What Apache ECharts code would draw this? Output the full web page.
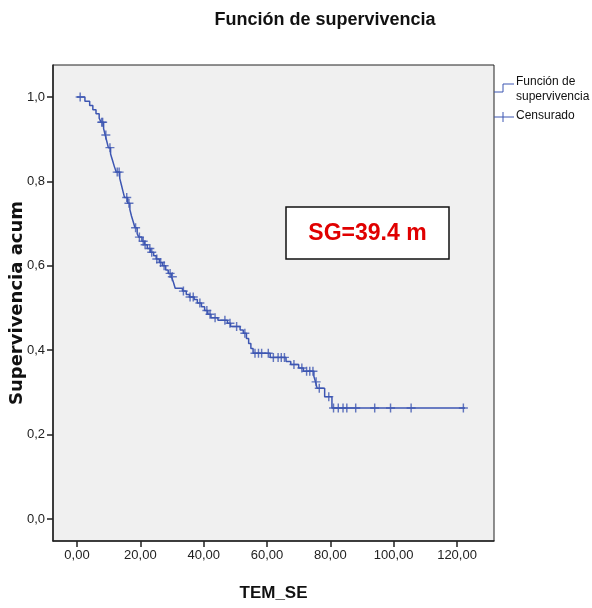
<!DOCTYPE html>
<html>
<head>
<meta charset="utf-8">
<script src="https://cdn.jsdelivr.net/npm/echarts@6/dist/echarts.min.js"></script>
<style>html,body{margin:0;padding:0;background:#fff}#c{width:592px;height:608px}</style>
</head>
<body>
<div id="c"></div>
<script>
// Kaplan-Meier step points [time, survival after event]
const kmSteps = [
  [0,1.0],[2.5,0.99],[4,0.98],[5,0.97],[6,0.96],[7,0.95],[7.6,0.94],[8.4,0.925],[8.9,0.91],
  [9.4,0.895],[9.9,0.88],[10.6,0.865],[11.2,0.85],[11.8,0.835],[12.4,0.822],[13.5,0.807],
  [14,0.792],[14.5,0.777],[15,0.762],[16,0.748],[16.7,0.733],[17.2,0.718],[17.8,0.703],
  [18.3,0.69],[19,0.676],[19.5,0.668],[20.5,0.658],[21.3,0.65],[22.2,0.641],[23.2,0.632],
  [24.2,0.624],[25,0.616],[26,0.608],[27,0.6],[28,0.59],[28.8,0.582],[29.8,0.574],[30.4,0.562],
  [31,0.547],[33.3,0.54],[34.5,0.532],[35.5,0.526],[37,0.52],[38,0.512],[39.3,0.503],
  [40.3,0.494],[41.3,0.485],[42.3,0.477],[44.5,0.471],[47.5,0.464],[48.5,0.456],[51.5,0.448],
  [52.5,0.44],[53.5,0.428],[54.2,0.416],[54.9,0.404],[55.6,0.393],[61,0.383],[66,0.373],
  [67.5,0.366],[70,0.358],[71.5,0.35],[74.8,0.338],[75.3,0.325],[75.8,0.31],[78.2,0.29],
  [80.5,0.263],[122.5,0.263]
];
// Censored observations [time, survival]
const censored = [
  [1,1.0],[7.8,0.94],[8.1,0.94],[9.1,0.91],[10.4,0.88],[12.7,0.822],[13.3,0.822],[15.7,0.762],
  [16.4,0.748],[18.5,0.69],[19.7,0.668],[20.9,0.658],[21.5,0.65],[23,0.641],[23.6,0.632],
  [25.2,0.616],[26.4,0.608],[27.5,0.6],[29.4,0.582],[30.1,0.574],[33.6,0.54],[35.7,0.526],
  [36.7,0.526],[38.8,0.512],[41,0.494],[42,0.485],[43.6,0.477],[46.7,0.471],[48.3,0.464],
  [50.4,0.456],[53,0.44],[56.2,0.393],[57.3,0.393],[58.3,0.393],[60.4,0.393],[62,0.383],
  [63.5,0.383],[64.5,0.383],[65.5,0.383],[68.5,0.366],[71,0.358],[72.5,0.35],[73.5,0.35],
  [74.5,0.35],[75.5,0.325],[76.5,0.31],[79.5,0.29],[81,0.263],[82.5,0.263],[84,0.263],
  [85.2,0.263],[88,0.263],[94,0.263],[99,0.263],[105.5,0.263],[122,0.263]
];
const xTicks = [0,20,40,60,80,100,120];
const yTicks = [0,0.2,0.4,0.6,0.8,1.0];
const titleText = 'Función de supervivencia';
const xName = 'TEM_SE';
const yName = 'Supervivencia acum';
const legendNames = ['Función de\nsupervivencia','Censurado'];
const annotation = 'SG=39.4 m';

const SANS = "'Liberation Sans',Arial,sans-serif";
const BLUE = '#3d56b2';
const chart = echarts.init(document.getElementById('c'), null, {renderer:'canvas'});
chart.setOption({
  animation:false,
  backgroundColor:'#ffffff',
  title:{text:titleText,left:320,top:6,textAlign:'center',
    textStyle:{fontFamily:SANS,fontWeight:'bold',fontSize:18,color:'#111'}},
  grid:{left:53,top:65,width:441,height:476,show:true,backgroundColor:'#f0f0f0',
    borderColor:'#222',borderWidth:1,containLabel:false,outerBoundsMode:'none'},
  xAxis:{type:'value',min:-7.58,max:131.67,
    name:xName,nameLocation:'middle',nameGap:44,nameMoveOverlap:false,
    nameTextStyle:{fontFamily:SANS,fontWeight:'bold',fontSize:17,color:'#111'},
    axisLine:{show:true,onZero:false,lineStyle:{color:'#222',width:1.5}},
    axisTick:{show:true,length:6,customValues:xTicks,lineStyle:{color:'#222',width:1.5}},
    axisLabel:{customValues:xTicks,margin:8,fontFamily:SANS,fontSize:13,color:'#222',
      formatter:v=>v.toFixed(2).replace('.',',')},
    splitLine:{show:false}},
  yAxis:{type:'value',min:-0.0521,max:1.0758,
    name:yName,nameLocation:'middle',nameGap:27,nameRotate:90,nameMoveOverlap:false,
    nameTextStyle:{fontFamily:"'DejaVu Sans',sans-serif",fontWeight:'bold',fontSize:18,color:'#111'},
    axisLine:{show:true,onZero:false,lineStyle:{color:'#222',width:1.5}},
    axisTick:{show:true,length:6,customValues:yTicks,lineStyle:{color:'#222',width:1.5}},
    axisLabel:{customValues:yTicks,margin:8,fontFamily:SANS,fontSize:13,color:'#222',
      formatter:v=>v.toFixed(1).replace('.',',')},
    splitLine:{show:false}},
  series:[
    {type:'line',step:'end',data:kmSteps,showSymbol:false,symbol:'none',
      lineStyle:{color:BLUE,width:1.5},z:2},
    {type:'scatter',data:censored,
      symbol:'path://M4.2,0 H5.8 V4.2 H10 V5.8 H5.8 V10 H4.2 V5.8 H0 V4.2 H4.2 Z',
      symbolSize:9,itemStyle:{color:BLUE},z:3}
  ],
  graphic:[
    {type:'polyline',shape:{points:[[494,92],[503,92],[503,84],[514,84]]},
      style:{stroke:BLUE,lineWidth:1,fill:null}},
    {type:'text',left:516,top:74,style:{text:legendNames[0],fontFamily:SANS,fontSize:12,
      lineHeight:15,fill:'#111'}},
    {type:'line',shape:{x1:494,y1:117,x2:514,y2:117},style:{stroke:BLUE,lineWidth:1}},
    {type:'line',shape:{x1:503,y1:112,x2:503,y2:122},style:{stroke:BLUE,lineWidth:1}},
    {type:'text',left:516,top:110,style:{text:legendNames[1],fontFamily:SANS,fontSize:12,fill:'#111'}},
    {type:'rect',shape:{x:286,y:207,width:163,height:52},
      style:{fill:'#ffffff',stroke:'#111',lineWidth:1.5},z:10},
    {type:'text',x:367.5,y:234,z:11,style:{text:annotation,align:'center',verticalAlign:'middle',
      fontFamily:SANS,fontWeight:'bold',fontSize:23,fill:'#e00000'}}
  ]
});
</script>
</body>
</html>
